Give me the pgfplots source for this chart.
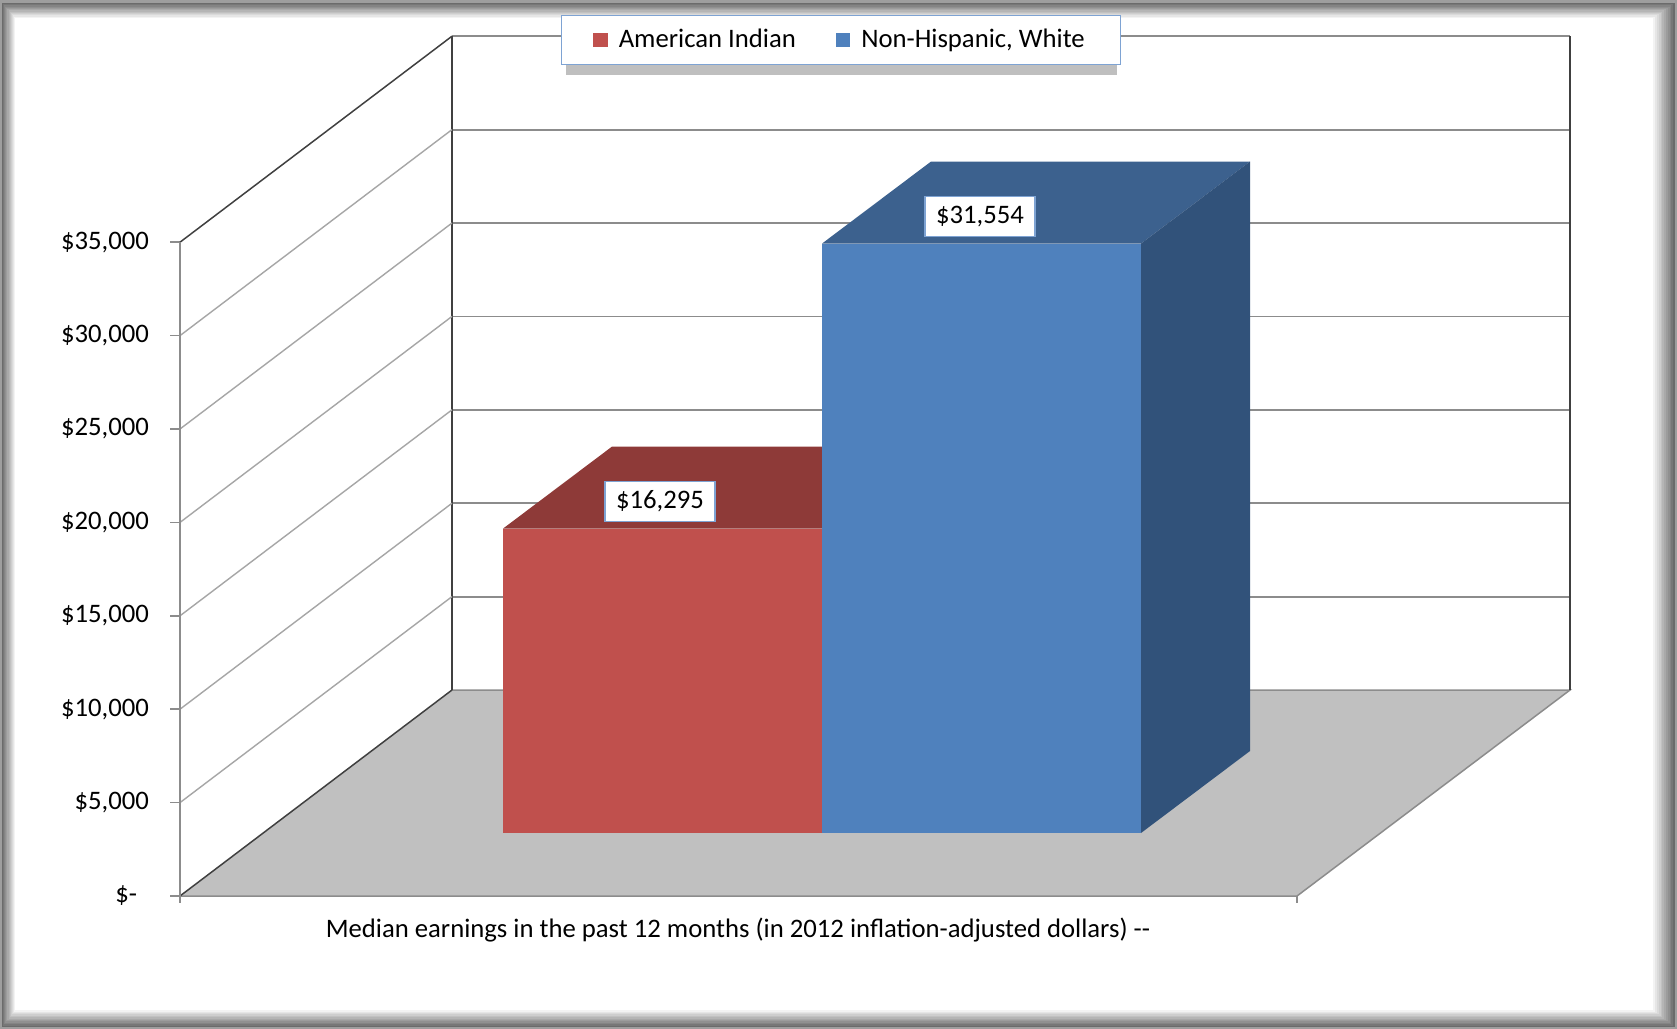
\documentclass[border=0pt]{standalone}
\usepackage{fontspec}
\setmainfont{Carlito}
\usepackage{pgfplots}
\pgfplotsset{compat=1.18}

\definecolor{redfront}{HTML}{C0504D}
\definecolor{redtop}{HTML}{8E3A38}
\definecolor{bluefront}{HTML}{4F81BD}
\definecolor{bluetop}{HTML}{3C618E}
\definecolor{blueside}{HTML}{31527A}
\definecolor{floorgray}{HTML}{C0C0C0}
\definecolor{gridgray}{HTML}{8C8C8C}
\definecolor{wallgray}{HTML}{A6A6A6}
\definecolor{walldark}{HTML}{404040}
\definecolor{boxblue}{HTML}{7EA3D3}

% median earnings
\def\valA{16295}
\def\valB{31554}
% x is in picture px, y in dollars; depth shifts
\def\base{3373}   % bar front sits this high on the floor
\def\deep{4390}   % bar depth
\edef\topA{\the\numexpr\base+\valA\relax}
\edef\topB{\the\numexpr\base+\valB\relax}
\edef\topAb{\the\numexpr\topA+\deep\relax}
\edef\topBb{\the\numexpr\topB+\deep\relax}
\edef\baseb{\the\numexpr\base+\deep\relax}

\begin{document}
\begin{tikzpicture}[font=\fontsize{13.4}{16}\selectfont]
% frame with soft inner shadow
\begin{scope}[x=0.5bp,y=-0.5bp]
\fill[black!38] (0,0) rectangle (1677,1029);
\foreach \i in {0,...,12}{
  \pgfmathsetmacro\c{58-58*\i/12}
  \fill[black!\c] (2+1.1*\i,3+1.25*\i) rectangle (1675-1.8*\i,1027-1.4*\i);
}
% legend shadow
\fill[black!25] (566,30) rectangle (1117,75);
\end{scope}

\begin{axis}[
    at={(90bp,-514.5bp)}, anchor=south west,
    scale only axis,
    width=748.5bp, height=514.5bp,
    xmin=180, xmax=1677,
    ymin=-7119.9, ymax=47965.7,
    enlargelimits=false,
    clip=false,
    hide x axis,
    axis line style={draw=none},
    scaled y ticks=false,
    ytick pos=left,
    ytick={0,5000,...,35000},
    yticklabels={{\$-\rule{6bp}{0pt}},{\$5,000},{\$10,000},{\$15,000},{\$20,000},{\$25,000},{\$30,000},{\$35,000}},
    yticklabel style={xshift=-7bp},
    tick align=outside,
    major tick length=5bp,
    tick style={color=gridgray, line width=0.75bp},
    legend columns=2,
    legend image code/.code={\fill[#1] (0bp,-3.6bp) rectangle (7.2bp,3.6bp);},
    legend style={at={(0.4416,0.9611)}, anchor=center, draw=boxblue,
      line width=0.6bp, fill=white, inner xsep=16bp, inner ysep=5bp,
      /tikz/every even column/.append style={column sep=18bp},
      /tikz/every odd column/.append style={column sep=0bp}},
    legend cell align=left,
]
% floor
\addplot[fill=floorgray, draw=none, forget plot] coordinates {(180,0) (1297,0) (1570,11028) (452,11028)} -- cycle;
\addplot[gridgray, line width=0.75bp, forget plot] coordinates {(452,11028) (1570,11028) (1297,0) (180,0)};
\addplot[walldark, line width=0.75bp, forget plot] coordinates {(180,0) (452,11028)};
% back wall gridlines
\addplot[gridgray, line width=0.9bp, forget plot] coordinates {(452,16028) (1570,16028)};
\addplot[gridgray, line width=0.9bp, forget plot] coordinates {(452,21028) (1570,21028)};
\addplot[gridgray, line width=0.9bp, forget plot] coordinates {(452,26028) (1570,26028)};
\addplot[gridgray, line width=0.9bp, forget plot] coordinates {(452,31028) (1570,31028)};
\addplot[gridgray, line width=0.9bp, forget plot] coordinates {(452,36028) (1570,36028)};
\addplot[gridgray, line width=0.9bp, forget plot] coordinates {(452,41028) (1570,41028)};
\addplot[gridgray, line width=0.9bp, forget plot] coordinates {(452,46028) (1570,46028)};
\addplot[walldark, line width=0.9bp, forget plot] coordinates {(452,11028) (452,46028)};
\addplot[walldark, line width=0.9bp, forget plot] coordinates {(1570,11028) (1570,46028)};
% side wall gridlines
\addplot[wallgray, line width=0.7bp, forget plot] coordinates {(180,5000) (452,16028)};
\addplot[wallgray, line width=0.7bp, forget plot] coordinates {(180,10000) (452,21028)};
\addplot[wallgray, line width=0.7bp, forget plot] coordinates {(180,15000) (452,26028)};
\addplot[wallgray, line width=0.7bp, forget plot] coordinates {(180,20000) (452,31028)};
\addplot[wallgray, line width=0.7bp, forget plot] coordinates {(180,25000) (452,36028)};
\addplot[wallgray, line width=0.7bp, forget plot] coordinates {(180,30000) (452,41028)};
\addplot[walldark, line width=0.75bp, forget plot] coordinates {(180,35000) (452,46028)};
% value axis line and category ticks
\addplot[gridgray, line width=0.75bp, forget plot] coordinates {(180,0) (180,35000)};
\addplot[gridgray, line width=0.75bp, forget plot] coordinates {(180,0) (180,-375)};
\addplot[gridgray, line width=0.75bp, forget plot] coordinates {(1297,0) (1297,-375)};

% American Indian
\addplot[fill=redfront, draw=none] coordinates {(503,\base) (822,\base) (822,\topA) (503,\topA)} -- cycle;
\addlegendentry{\hspace{3.5bp}American Indian}
\addplot[fill=redtop, draw=none, forget plot] coordinates {(503,\topA) (822,\topA) (931,\topAb) (612,\topAb)} -- cycle;
% Non-Hispanic, White
\addplot[fill=bluefront, draw=none] coordinates {(822,\base) (1141,\base) (1141,\topB) (822,\topB)} -- cycle;
\addlegendentry{\hspace{3.5bp}Non-Hispanic, White}
\addplot[fill=bluetop, draw=none, forget plot] coordinates {(822,\topB) (1141,\topB) (1250,\topBb) (931,\topBb)} -- cycle;
\addplot[fill=blueside, draw=none, forget plot] coordinates {(1141,\base) (1141,\topB) (1250,\topBb) (1250,\baseb)} -- cycle;

% data labels
\addplot[draw=none, forget plot, point meta=explicit,
  nodes near coords={\$\pgfmathprintnumber[fixed,precision=0,1000 sep={,},assume math mode=true]{\pgfplotspointmeta}},
  every node near coord/.append style={anchor=center, draw=boxblue, fill=white,
    line width=0.75bp, minimum width=55bp, minimum height=20bp, inner sep=0pt}]
  table[x=x, y expr=\thisrow{v}+\base+1460, meta=v] {
x v
660 16295
980 31554
};

\node at (axis cs:738,-1820) {Median earnings in the past 12 months (in 2012 inflation-adjusted dollars) -{}-};
\end{axis}
\end{tikzpicture}
\end{document}
